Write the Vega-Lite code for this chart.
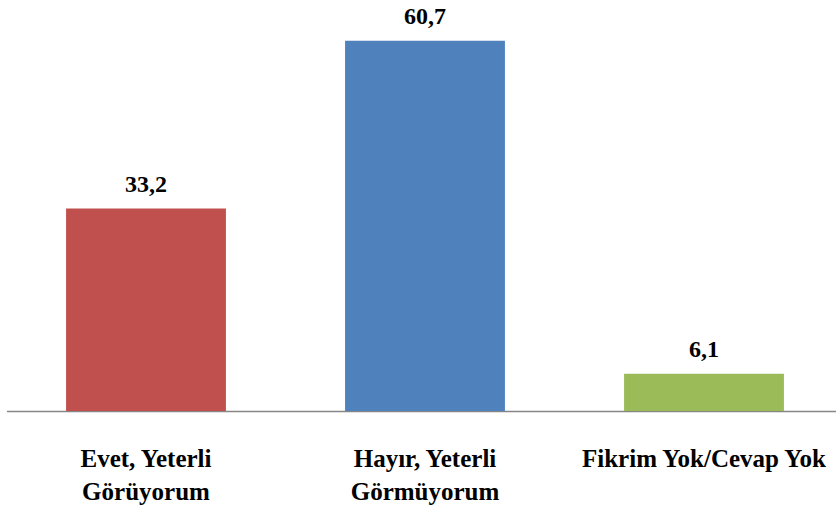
{
  "$schema": "https://vega.github.io/schema/vega-lite/v6.json",
  "autosize": {"type": "none"},
  "width": 837,
  "height": 411,
  "padding": {"left": 6.5, "top": 0, "right": 0, "bottom": 100},
  "background": "white",
  "data": {
    "values": [
      {"kategori": "Evet, Yeterli Görüyorum", "deger": 33.2, "etiket": "33,2"},
      {"kategori": "Hayır, Yeterli Görmüyorum", "deger": 60.7, "etiket": "60,7"},
      {"kategori": "Fikrim Yok/Cevap Yok", "deger": 6.1, "etiket": "6,1"}
    ]
  },
  "config": {
    "view": {"stroke": null},
    "axis": {"labelFont": "Liberation Serif", "labelFontWeight": "bold"}
  },
  "encoding": {
    "x": {
      "field": "kategori",
      "type": "nominal",
      "sort": null,
      "scale": {"paddingInner": 0.427, "paddingOuter": 0.2135},
      "axis": {
        "title": null,
        "labelAngle": 0,
        "ticks": false,
        "domainColor": "#868686",
        "domainWidth": 1.3,
        "labelFont": "Liberation Serif",
        "labelFontWeight": "bold",
        "labelFontSize": 25,
        "labelColor": "#000000",
        "labelPadding": 35,
        "labelLineHeight": 33,
        "labelLimit": 400,
        "labelExpr": "datum.value == 'Evet, Yeterli Görüyorum' ? ['Evet, Yeterli', 'Görüyorum'] : datum.value == 'Hayır, Yeterli Görmüyorum' ? ['Hayır, Yeterli', 'Görmüyorum'] : datum.value"
      }
    },
    "y": {
      "field": "deger",
      "type": "quantitative",
      "scale": {"domain": [0, 67.4], "nice": false},
      "axis": null
    }
  },
  "layer": [
    {
      "mark": {"type": "bar"},
      "encoding": {
        "color": {
          "field": "kategori",
          "type": "nominal",
          "sort": null,
          "scale": {"range": ["#C0504D", "#4F81BD", "#9BBB59"]},
          "legend": null
        }
      }
    },
    {
      "mark": {"type": "text", "dy": -17, "baseline": "alphabetic", "font": "Liberation Serif", "fontWeight": "bold", "fontSize": 24, "color": "#000000"},
      "encoding": {"text": {"field": "etiket"}}
    }
  ]
}
